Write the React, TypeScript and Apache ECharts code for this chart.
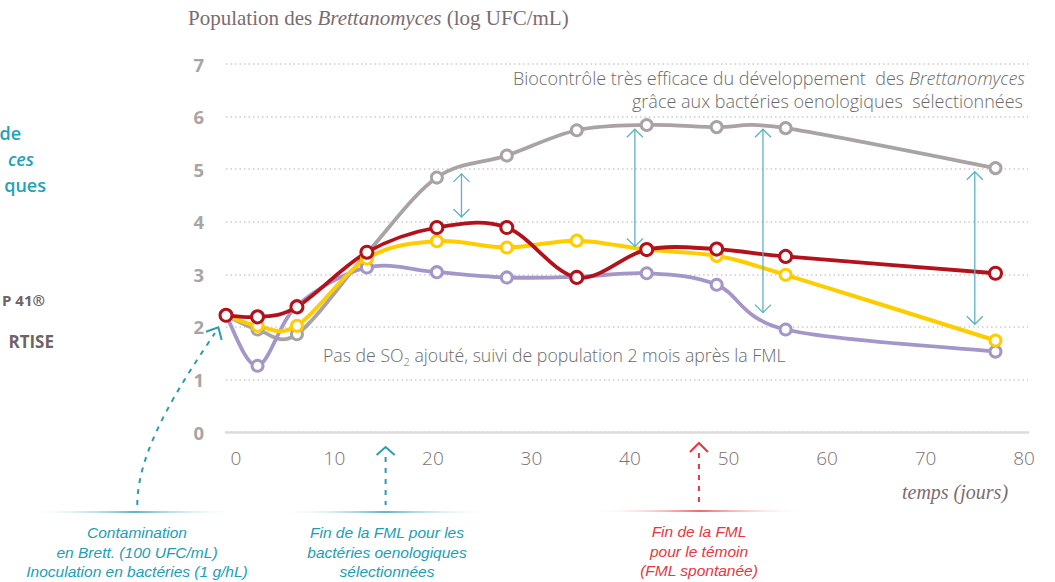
import React, { useEffect, useRef } from "react";
import * as echarts from "echarts";

// ---- data ----
const days = [-1.0, 2.2, 6.2, 13.3, 20.4, 27.5, 34.6, 41.7, 48.8, 55.8, 77.1];
const temoin = [2.22, 1.95, 1.86, 3.4, 4.84, 5.26, 5.74, 5.84, 5.8, 5.78, 5.02];
const soucheRouge = [2.22, 2.19, 2.38, 3.42, 3.89, 3.89, 2.94, 3.47, 3.48, 3.34, 3.02];
const soucheJaune = [2.22, 2.02, 2.02, 3.3, 3.63, 3.51, 3.64, 3.47, 3.35, 2.99, 1.74];
const soucheViolette = [2.22, 1.26, 2.4, 3.13, 3.04, 2.94, 2.95, 3.02, 2.8, 1.95, 1.53];
const xTicks = [0, 10, 20, 30, 40, 50, 60, 70, 80];
// double arrows: day, top value, bottom value
const arrowDays = [22.9, 40.5, 53.5, 75.0];
const arrowTop = [4.91, 5.76, 5.76, 4.95];
const arrowBottom = [4.09, 3.53, 2.27, 2.05];
const fmlSelectedDay = 15.2;
const fmlTemoinDay = 47.0;

const SANS = '"Open Sans", "Noto Sans", sans-serif';
const NOTE_SANS = '"Liberation Sans", "Open Sans", sans-serif';
const SERIF = '"Liberation Serif", "DejaVu Serif", serif';
const TEAL = "#1aa0b4";
const TEAL_LIGHT = "#5cb3c4";
const RED_NOTE = "#e8363f";

function chevron(x: number, y: number, dir: number, s: number, h: number, color: string, w: number) {
  return {
    type: "polyline",
    silent: true,
    shape: { points: [[x - s, y + dir * h], [x, y], [x + s, y + dir * h]] },
    style: { stroke: color, lineWidth: w, fill: null },
    z: 50,
  };
}

function fadeLine(x1: number, x2: number, y: number, color: string) {
  return {
    type: "rect",
    silent: true,
    shape: { x: x1, y: y - 0.75, width: x2 - x1, height: 1.5 },
    style: {
      fill: new echarts.graphic.LinearGradient(0, 0, 1, 0, [
        { offset: 0, color: "rgba(255,255,255,0)" },
        { offset: 0.5, color },
        { offset: 1, color: "rgba(255,255,255,0)" },
      ]),
    },
  };
}

// Catmull-Rom curve through the points, positioned with the axis scales
function curveSeries(name: string, values: number[], color: string, width: number) {
  return {
    name: name + " (courbe)",
    type: "custom",
    coordinateSystem: "cartesian2d",
    silent: true,
    data: [[days[0], values[0]]],
    encode: { x: 0, y: 1 },
    renderItem: (_params: any, api: any) => {
      const p = days.map((d, i) => api.coord([d, values[i]]));
      let d = `M${p[0][0]},${p[0][1]}`;
      for (let i = 0; i < p.length - 1; i++) {
        const p0 = p[Math.max(0, i - 1)];
        const p1 = p[i];
        const p2 = p[i + 1];
        const p3 = p[Math.min(p.length - 1, i + 2)];
        const c1x = p1[0] + (p2[0] - p0[0]) / 6;
        const c1y = p1[1] + (p2[1] - p0[1]) / 6;
        const c2x = p2[0] - (p3[0] - p1[0]) / 6;
        const c2y = p2[1] - (p3[1] - p1[1]) / 6;
        d += ` C${c1x},${c1y} ${c2x},${c2y} ${p2[0]},${p2[1]}`;
      }
      return {
        type: "path",
        shape: { pathData: d },
        style: { fill: "none", stroke: color, lineWidth: width, lineJoin: "round", lineCap: "round" },
      };
    },
  };
}

function markerSeries(name: string, values: number[], color: string, size: number) {
  return {
    name,
    type: "line",
    data: days.map((d, i) => [d, values[i]]),
    symbol: "circle",
    symbolSize: size,
    showSymbol: true,
    lineStyle: { width: 0, opacity: 0 },
    itemStyle: { color: "#ffffff", borderColor: color, borderWidth: 3 },
    emphasis: { disabled: true },
  };
}

export default function App() {
  const ref = useRef<HTMLDivElement>(null);
  useEffect(() => {
    if (!ref.current) return;
    const chart = echarts.init(ref.current, null, { renderer: "svg" });
    const option: any = {
      animation: false,
      grid: { left: 226, right: 27, top: 64, bottom: 150 },
      xAxis: {
        type: "value",
        min: -1,
        max: 80.4,
        axisLine: { show: true, lineStyle: { color: "#dcdcdc", width: 2.5 } },
        axisTick: { show: false },
        splitLine: { show: false },
        axisLabel: {
          customValues: xTicks,
          fontSize: 19,
          fontFamily: SANS,
          fontWeight: 300,
          color: "#7d6f73",
          margin: 16,
        },
      },
      yAxis: {
        type: "value",
        min: 0,
        max: 7,
        interval: 1,
        axisLine: { show: false },
        axisTick: { show: false },
        splitLine: { show: true, lineStyle: { color: "#cccccc", width: 1.5, type: [1.5, 3] } },
        axisLabel: { fontSize: 18.5, fontWeight: "bold", fontFamily: SANS, color: "#a9a4a6", margin: 22 },
      },
      series: [
        curveSeries("Témoin", temoin, "#aaa3a6", 3.8),
        markerSeries("Témoin", temoin, "#aaa3a6", 11),
        curveSeries("Bactéries sélectionnées C", soucheViolette, "#a496c8", 3.8),
        markerSeries("Bactéries sélectionnées C", soucheViolette, "#a496c8", 11),
        curveSeries("Bactéries sélectionnées B", soucheJaune, "#ffcc00", 4),
        markerSeries("Bactéries sélectionnées B", soucheJaune, "#ffcc00", 11),
        curveSeries("Bactéries sélectionnées A", soucheRouge, "#b3121d", 3.8),
        markerSeries("Bactéries sélectionnées A", soucheRouge, "#b3121d", 12),
      ],
    };
    chart.setOption(option);

    const px = (x: number, y: number) => chart.convertToPixel({ gridIndex: 0 }, [x, y]) as number[];
    const axisY = px(0, 0)[1];
    const g: any[] = [];

    // double arrows (biocontrol)
    arrowDays.forEach((d, i) => {
      const [x, yt] = px(d, arrowTop[i]);
      const yb = px(d, arrowBottom[i])[1];
      g.push({
        type: "line",
        silent: true,
        shape: { x1: x, y1: yt, x2: x, y2: yb },
        style: { stroke: TEAL_LIGHT, lineWidth: 1.3 },
        z: 50,
      });
      g.push(chevron(x, yt, 1, 8, 8, TEAL_LIGHT, 1.3));
      g.push(chevron(x, yb, -1, 8, 8, TEAL_LIGHT, 1.3));
    });

    // FML end arrows below the axis
    const xSel = px(fmlSelectedDay, 0)[0];
    const xTem = px(fmlTemoinDay, 0)[0];
    g.push(chevron(xSel, axisY + 15, 1, 9, 8, "#2b9bb0", 2));
    g.push({
      type: "line", silent: true,
      shape: { x1: xSel, y1: axisY + 25, x2: xSel, y2: 505 },
      style: { stroke: "#2b9bb0", lineWidth: 2, lineDash: [5, 6] },
    });
    g.push(chevron(xTem, axisY + 11, 1, 9, 9, RED_NOTE, 2));
    g.push({
      type: "line", silent: true,
      shape: { x1: xTem, y1: axisY + 21, x2: xTem, y2: 505 },
      style: { stroke: RED_NOTE, lineWidth: 2, lineDash: [5, 6] },
    });

    // contamination arrow (curved dashed)
    g.push({
      type: "bezierCurve", silent: true,
      shape: { x1: 137.3, y1: 505, cpx1: 137.3, cpy1: 450, cpx2: 180, cpy2: 385, x2: 215, y2: 333 },
      style: { stroke: "#2b9bb0", lineWidth: 2, lineDash: [5, 6], fill: null },
    });
    g.push({
      type: "polyline", silent: true,
      shape: { points: [[206, 331.7], [218.3, 327.3], [221.7, 340]] },
      style: { stroke: "#2b9bb0", lineWidth: 2, fill: null },
    });

    // faded separator lines
    g.push(fadeLine(28, 241, 512, "#2b9bb0"));
    g.push(fadeLine(278, 492, 512, "#2b9bb0"));
    g.push(fadeLine(593, 807, 511, RED_NOTE));

    // bottom notes
    const note = (text: string, x: number, y: number, color: string) => ({
      type: "text", silent: true, x, y,
      style: {
        text, fill: color, fontFamily: NOTE_SANS, fontStyle: "italic", fontSize: 15.5, lineHeight: 19.5,
        textAlign: "center", textVerticalAlign: "top",
      },
    });
    g.push(note("Contamination\nen Brett. (100 UFC/mL)\nInoculation en bactéries (1 g/hL)", 137, 523, TEAL));
    g.push(note("Fin de la FML pour les\nbactéries oenologiques\nsélectionnées", 387, 523, TEAL));
    g.push(note("Fin de la FML\npour le témoin\n(FML spontanée)", 699, 522, RED_NOTE));

    // titles
    g.push({
      type: "text", silent: true, x: 188, y: 18,
      style: {
        text: "{n|Population des }{i|Brettanomyces}{n| (log UFC/mL)}",
        textAlign: "left", textVerticalAlign: "middle",
        rich: {
          n: { fontFamily: SERIF, fontSize: 21, fill: "#7b6c71" },
          i: { fontFamily: SERIF, fontSize: 21, fontStyle: "italic", fill: "#7b6c71" },
        },
      },
    });
    g.push({
      type: "text", silent: true, x: 955, y: 492,
      style: {
        text: "temps (jours)", fill: "#7b6c71", fontFamily: SERIF, fontStyle: "italic", fontSize: 20,
        textAlign: "center", textVerticalAlign: "middle",
      },
    });

    // in-chart notes
    g.push({
      type: "text", silent: true, x: 1025, y: 78,
      style: {
        text: "{n|Biocontrôle très efficace du développement  des }{i|Brettanomyces}",
        textAlign: "right", textVerticalAlign: "middle",
        rich: {
          n: { fontFamily: SANS, fontSize: 18, fontWeight: 300, fill: "#6b6b6b" },
          i: { fontFamily: SANS, fontSize: 18, fontWeight: 300, fontStyle: "italic", fill: "#6b6b6b" },
        },
      },
    });
    g.push({
      type: "text", silent: true, x: 1023, y: 101,
      style: {
        text: "grâce aux bactéries oenologiques  sélectionnées",
        fill: "#6b6b6b", fontFamily: SANS, fontSize: 18, fontWeight: 300,
        textAlign: "right", textVerticalAlign: "middle",
      },
    });
    g.push({
      type: "text", silent: true, x: 323, y: 355,
      style: {
        text: "{n|Pas de SO}{s|2}{n| ajouté, suivi de population 2 mois après la FML}",
        textAlign: "left", textVerticalAlign: "middle",
        rich: {
          n: { fontFamily: SANS, fontSize: 17.7, fontWeight: 300, fill: "#6b6b6b", lineHeight: 24, verticalAlign: "middle" },
          s: { fontFamily: SANS, fontSize: 11, fontWeight: 300, fill: "#6b6b6b", lineHeight: 24, verticalAlign: "bottom" },
        },
      },
    });

    // cut-off side texts
    const side = (text: string, x: number, y: number, color: string, size: number, weight: any, style = "normal") => ({
      type: "text", silent: true, x, y,
      style: {
        text, fill: color, fontFamily: SANS, fontSize: size, fontWeight: weight, fontStyle: style,
        textAlign: "right", textVerticalAlign: "middle",
      },
    });
    g.push(side("de", 21, 133, "#1ea3b7", 18, 600));
    g.push(side("ces", 34, 159, "#1ea3b7", 18, 600, "italic"));
    g.push(side("ques", 46, 185, "#1ea3b7", 18, 600));
    g.push(side("P 41®", 45, 300, "#6f6366", 15, "bold"));
    g.push(side("RTISE", 54, 341, "#6f6366", 17, "bold"));

    chart.setOption({ graphic: g });
    return () => chart.dispose();
  }, []);
  return (
    <div
      ref={ref}
      style={{ position: "fixed", left: 0, top: 0, width: 1055, height: 582, background: "#ffffff" }}
    />
  );
}
